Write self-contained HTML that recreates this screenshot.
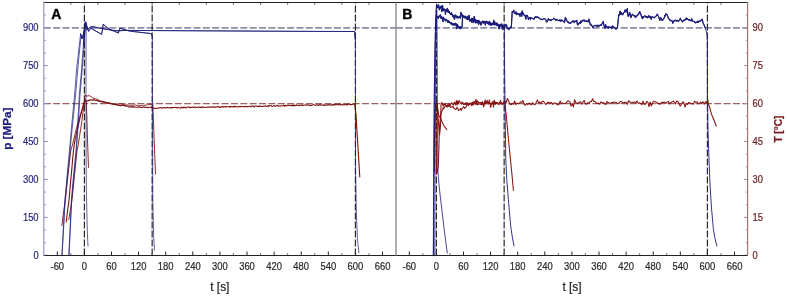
<!DOCTYPE html>
<html><head><meta charset="utf-8"><style>
html,body{margin:0;padding:0;background:#fff;width:787px;height:296px;overflow:hidden;font-family:"Liberation Sans",sans-serif;}
svg{display:block;will-change:transform;filter:blur(0.3px)}
</style></head><body>
<svg width="787" height="296" viewBox="0 0 787 296">
<rect width="787" height="296" fill="#fff"/>
<g><line x1="43.75" y1="27.85" x2="396.0" y2="27.85" stroke="#8e8ea8" stroke-width="1.8" stroke-dasharray="7 2.36"/><line x1="43.75" y1="103.6" x2="396.0" y2="103.6" stroke="#9a6262" stroke-width="1.3" stroke-dasharray="7 2.36"/><line x1="396.0" y1="27.85" x2="748.0" y2="27.85" stroke="#8e8ea8" stroke-width="1.8" stroke-dasharray="7 2.36"/><line x1="396.0" y1="103.6" x2="748.0" y2="103.6" stroke="#9a6262" stroke-width="1.3" stroke-dasharray="7 2.36"/><line x1="84.40" y1="255.5" x2="84.40" y2="2.5" stroke="#2a2a2a" stroke-width="1.2" stroke-dasharray="6.9 2.1"/><line x1="152.16" y1="255.5" x2="152.16" y2="2.5" stroke="#2a2a2a" stroke-width="1.2" stroke-dasharray="6.9 2.1"/><line x1="355.42" y1="255.5" x2="355.42" y2="2.5" stroke="#2a2a2a" stroke-width="1.2" stroke-dasharray="6.9 2.1"/><line x1="436.40" y1="255.5" x2="436.40" y2="2.5" stroke="#2a2a2a" stroke-width="1.2" stroke-dasharray="6.9 2.1"/><line x1="504.15" y1="255.5" x2="504.15" y2="2.5" stroke="#2a2a2a" stroke-width="1.2" stroke-dasharray="6.9 2.1"/><line x1="707.42" y1="255.5" x2="707.42" y2="2.5" stroke="#2a2a2a" stroke-width="1.2" stroke-dasharray="6.9 2.1"/></g>
<g><path d="M61.90,225.60 L63.50,212.01 L65.40,200.32 L66.70,187.25 L68.00,175.31 L69.45,162.37 L70.90,149.95 L72.40,145.23 L73.80,139.19 L75.20,133.53 L76.60,127.42 L78.00,122.18 L79.35,117.83 L80.70,113.48 L82.05,109.60 L83.40,105.06 L84.50,100.97 L85.50,99.24 L86.20,101.93 L86.80,114.79 L87.50,139.83 L88.50,167.40" fill="none" stroke="#851515" stroke-width="0.9" stroke-linejoin="round" stroke-linecap="round" opacity="1.0"/><path d="M68.80,219.70 L70.40,209.68 L72.00,199.86 L73.28,187.72 L74.55,174.71 L75.82,162.57 L77.10,150.16 L78.30,144.78 L79.53,136.36 L80.77,128.18 L82.00,120.11 L84.20,103.04 L85.10,94.86 L86.70,96.05 L87.95,95.97 L89.20,95.55 L91.20,96.79 L92.57,97.69 L93.93,98.16 L95.30,98.62 L96.55,98.98 L97.80,99.59 L99.05,100.21 L100.30,100.97 L101.58,101.27 L102.85,101.32 L104.12,102.12 L105.40,102.18 L106.68,102.59 L107.95,102.43 L109.22,102.67 L110.50,102.99 L111.75,103.74 L113.00,103.88 L114.25,104.27 L115.50,104.40 L116.78,104.08 L118.05,104.01 L119.32,103.92 L120.60,103.95 L121.88,103.93 L123.15,104.52 L124.42,104.60 L125.70,105.03 L127.20,104.92 L128.70,105.18 L130.20,105.06 L131.70,105.32 L133.08,105.13 L134.47,105.09 L135.85,105.08 L137.23,105.57 L138.62,105.44 L140.00,105.78 L141.25,105.62 L142.50,105.19 L143.75,105.49 L145.00,105.11 L146.25,105.12 L147.50,104.76 L148.75,104.50 L150.00,104.37 L151.40,104.48 L152.80,104.87 L153.60,124.73 L154.50,149.66 L155.50,174.00" fill="none" stroke="#851515" stroke-width="0.9" stroke-linejoin="round" stroke-linecap="round" opacity="1.0"/><path d="M66.20,222.00 L67.13,214.21 L68.07,207.04 L69.00,200.33 L69.75,191.76 L70.50,182.89 L71.25,174.93 L72.00,166.64 L72.75,157.96 L73.50,150.26 L74.25,144.58 L75.00,139.88 L75.80,136.42 L76.60,132.72 L77.40,129.30 L78.20,125.86 L79.00,122.50 L79.77,118.76 L80.53,116.16 L81.30,113.22 L82.07,109.77 L82.83,106.45 L83.60,104.52 L84.35,102.38 L85.10,101.00 L85.83,101.49 L86.56,101.01 L87.29,100.74 L88.01,100.93 L88.74,99.97 L89.47,100.57 L90.20,100.06 L90.95,99.62 L91.70,100.13 L92.45,100.30 L93.20,99.38 L93.91,99.99 L94.62,99.78 L95.33,100.42 L96.04,100.54 L96.75,100.14 L97.46,100.96 L98.17,100.92 L98.88,101.10 L99.59,101.40 L100.30,101.12 L101.05,101.67 L101.79,101.99 L102.54,101.32 L103.28,102.32 L104.03,102.01 L104.78,102.29 L105.52,102.10 L106.27,102.90 L107.02,102.63 L107.76,103.45 L108.51,102.98 L109.25,103.48 L110.00,103.49 L110.71,103.84 L111.41,103.49 L112.12,103.59 L112.83,104.32 L113.53,104.44 L114.24,104.35 L114.95,104.86 L115.65,104.18 L116.36,105.01 L117.07,104.37 L117.77,105.36 L118.48,105.10 L119.19,105.19 L119.89,105.70 L120.60,105.62 L121.32,105.73 L122.04,105.02 L122.76,105.48 L123.49,105.27 L124.21,105.50 L124.93,105.63 L125.65,106.44 L126.37,105.75 L127.09,106.04 L127.81,106.36 L128.54,106.86 L129.26,107.10 L129.98,106.92 L130.70,106.49 L131.42,106.89 L132.13,107.10 L132.85,106.42 L133.56,107.15 L134.28,106.85 L134.99,107.13 L135.71,107.26 L136.42,107.29 L137.14,107.17 L137.85,107.24 L138.57,106.89 L139.28,107.26 L140.00,106.89 L140.71,107.29 L141.43,107.35 L142.14,107.62 L142.86,107.21 L143.57,106.81 L144.29,107.37 L145.00,107.03 L145.71,107.62 L146.43,107.24 L147.14,107.24 L147.86,107.83 L148.57,107.27 L149.29,107.23 L150.00,107.23 L150.71,107.46 L151.43,107.12 L152.14,107.71 L152.86,108.21 L153.57,107.90 L154.29,108.18 L155.00,108.49 L155.71,108.37 L156.43,108.25 L157.14,108.32 L157.86,108.31 L158.57,107.68 L159.29,107.92 L160.00,107.76 L160.71,107.66 L161.43,107.99 L162.14,107.70 L162.86,108.03 L163.57,107.98 L164.29,107.44 L165.00,107.80 L165.71,107.74 L166.43,108.07 L167.14,107.39 L167.86,107.46 L168.57,107.83 L169.29,107.70 L170.00,107.98 L170.71,107.60 L171.43,107.44 L172.14,108.23 L172.86,107.46 L173.57,107.34 L174.29,107.47 L175.00,107.52 L175.71,107.38 L176.43,107.71 L177.14,108.14 L177.86,107.23 L178.57,107.54 L179.29,107.80 L180.00,108.02 L180.71,108.14 L181.43,107.18 L182.14,107.60 L182.86,107.96 L183.57,107.04 L184.29,107.61 L185.00,107.14 L185.71,107.78 L186.43,107.95 L187.14,107.50 L187.86,106.90 L188.57,106.95 L189.29,107.32 L190.00,107.78 L190.71,107.10 L191.43,107.56 L192.14,107.25 L192.86,107.08 L193.57,107.55 L194.29,107.10 L195.00,107.16 L195.71,107.58 L196.43,107.27 L197.14,107.57 L197.86,107.26 L198.57,106.85 L199.29,107.15 L200.00,107.61 L200.70,107.26 L201.41,107.69 L202.11,106.62 L202.82,106.98 L203.52,107.44 L204.23,107.34 L204.93,107.19 L205.63,107.29 L206.34,107.51 L207.04,107.29 L207.75,107.13 L208.45,107.13 L209.15,107.24 L209.86,106.85 L210.56,107.22 L211.27,107.15 L211.97,107.32 L212.68,106.98 L213.38,106.47 L214.08,107.02 L214.79,107.36 L215.49,107.11 L216.20,107.10 L216.90,106.81 L217.61,106.76 L218.31,107.15 L219.01,106.43 L219.72,107.29 L220.42,107.29 L221.13,107.37 L221.83,106.45 L222.54,106.42 L223.24,107.26 L223.94,106.71 L224.65,106.55 L225.35,106.66 L226.06,106.96 L226.76,106.40 L227.46,106.75 L228.17,106.93 L228.87,106.98 L229.58,106.19 L230.28,107.06 L230.99,106.63 L231.69,106.62 L232.39,106.75 L233.10,106.43 L233.80,107.08 L234.51,106.33 L235.21,106.68 L235.92,106.26 L236.62,106.74 L237.32,107.04 L238.03,107.01 L238.73,106.18 L239.44,106.71 L240.14,106.99 L240.85,106.22 L241.55,106.44 L242.25,106.76 L242.96,106.77 L243.66,106.45 L244.37,106.64 L245.07,106.66 L245.77,106.31 L246.48,106.62 L247.18,106.53 L247.89,106.65 L248.59,106.44 L249.30,106.23 L250.00,106.33 L250.70,106.85 L251.41,106.03 L252.11,105.97 L252.82,105.80 L253.52,106.71 L254.23,106.84 L254.93,106.00 L255.63,106.02 L256.34,105.93 L257.04,106.36 L257.75,106.21 L258.45,106.57 L259.15,105.88 L259.86,106.60 L260.56,106.13 L261.27,106.49 L261.97,106.47 L262.68,106.57 L263.38,106.10 L264.08,106.21 L264.79,106.14 L265.49,105.72 L266.20,106.05 L266.90,106.50 L267.61,106.46 L268.31,105.47 L269.01,106.16 L269.72,105.78 L270.42,105.55 L271.13,105.54 L271.83,106.24 L272.54,106.41 L273.24,105.91 L273.94,105.75 L274.65,105.87 L275.35,106.20 L276.06,106.10 L276.76,105.33 L277.46,105.48 L278.17,106.18 L278.87,105.76 L279.58,105.92 L280.28,106.04 L280.99,105.87 L281.69,105.96 L282.39,105.74 L283.10,105.37 L283.80,105.31 L284.51,106.18 L285.21,105.09 L285.92,105.82 L286.62,106.01 L287.32,105.28 L288.03,105.07 L288.73,105.44 L289.44,105.35 L290.14,105.47 L290.85,105.42 L291.55,105.97 L292.25,105.05 L292.96,105.94 L293.66,104.94 L294.37,105.91 L295.07,105.22 L295.77,105.64 L296.48,104.83 L297.18,105.30 L297.89,105.54 L298.59,105.47 L299.30,105.65 L300.00,104.92 L300.71,105.18 L301.43,105.41 L302.14,104.75 L302.86,105.63 L303.57,105.16 L304.29,104.96 L305.00,104.93 L305.71,105.39 L306.43,104.72 L307.14,104.92 L307.86,104.98 L308.57,104.92 L309.29,105.43 L310.00,105.27 L310.71,105.60 L311.43,105.37 L312.14,104.91 L312.86,104.94 L313.57,104.70 L314.29,104.83 L315.00,105.22 L315.71,105.34 L316.43,104.86 L317.14,104.90 L317.86,105.40 L318.57,105.56 L319.29,104.59 L320.00,104.56 L320.71,105.31 L321.43,105.01 L322.14,104.92 L322.86,105.14 L323.57,105.27 L324.29,104.50 L325.00,105.47 L325.71,105.46 L326.43,104.86 L327.14,104.90 L327.86,104.68 L328.57,105.02 L329.29,104.59 L330.00,104.94 L330.71,105.33 L331.42,104.87 L332.13,105.21 L332.83,104.48 L333.54,105.24 L334.25,104.38 L334.96,104.46 L335.67,105.01 L336.38,104.53 L337.09,104.31 L337.79,104.26 L338.50,105.02 L339.21,104.15 L339.92,104.17 L340.63,105.13 L341.34,104.94 L342.05,104.47 L342.75,104.25 L343.46,104.98 L344.17,104.87 L344.88,104.73 L345.59,104.56 L346.30,104.53 L347.01,105.01 L347.71,104.50 L348.42,104.00 L349.13,103.97 L349.84,104.53 L350.55,104.66 L351.26,104.53 L351.97,104.64 L352.67,104.13 L353.38,104.19 L354.09,104.06 L354.80,104.16 L356.00,114.74 L356.75,127.87 L357.50,139.61 L358.27,152.01 L359.03,164.90 L359.80,177.00" fill="none" stroke="#7a1212" stroke-width="1.1" stroke-linejoin="round" stroke-linecap="round" opacity="1.0"/><path d="M436.60,173.00 L436.30,150.00 L436.00,125.00 L436.00,108.00 L436.30,101.90 L437.40,105.80 L438.70,115.30 L440.70,118.60 L442.10,122.00 L444.10,126.10 L446.80,129.50" fill="none" stroke="#861212" stroke-width="1.05" stroke-linejoin="round" stroke-linecap="round" opacity="1.0"/><path d="M436.80,174.00 L438.00,168.00 L438.40,163.70 L439.00,145.00 L439.30,130.00 L440.10,120.00 L440.80,112.00 L441.00,104.81 L441.70,102.51 L442.40,103.79 L443.10,106.23 L443.80,104.32 L444.50,105.21 L445.20,103.48 L445.90,105.14 L446.60,105.56 L447.30,106.03 L448.00,104.61 L448.70,103.92 L449.40,103.50 L450.10,105.46 L450.80,104.07 L451.50,102.73 L452.20,103.72 L452.90,104.39 L453.60,105.01 L454.30,102.12 L455.00,103.01 L455.70,104.79 L456.40,100.63 L457.10,105.05 L457.80,100.77 L458.50,103.71 L459.20,100.49 L459.90,101.88 L460.60,103.28 L461.30,104.14 L462.00,101.96 L462.70,102.25 L463.40,104.54 L464.10,104.04 L464.80,104.43 L465.50,102.70 L466.20,104.81 L466.90,102.75 L467.60,102.65 L468.30,104.21 L469.00,104.32 L469.70,103.35 L470.40,103.81 L471.10,104.56 L471.80,103.59 L472.50,103.00 L473.20,104.44 L473.90,101.68 L474.60,102.08 L475.30,102.02 L476.00,99.37 L476.70,103.58 L477.40,100.71 L478.10,101.65 L478.80,103.30 L479.50,102.56 L480.20,102.64 L480.90,102.52 L481.60,104.42 L482.30,101.77 L483.00,104.57 L483.70,106.95 L484.40,103.66 L485.10,99.85 L485.80,104.04 L486.50,102.31 L487.20,102.25 L487.90,102.70 L488.60,102.36 L489.30,103.36 L490.00,103.42 L490.70,103.77 L491.40,103.97 L492.10,103.18 L492.80,103.06 L493.50,107.09 L494.20,99.93 L494.90,103.89 L495.60,104.27 L496.30,102.33 L497.00,102.46 L497.70,102.59 L498.40,104.16 L499.10,103.73 L499.80,103.85 L500.50,100.27 L501.20,103.94 L501.90,103.90 L502.60,104.14 L503.30,104.12 L504.00,101.60 L505.00,103.50 L506.50,118.00 L508.50,140.00 L510.50,160.00 L512.00,175.00 L513.40,190.50" fill="none" stroke="#861212" stroke-width="1.05" stroke-linejoin="round" stroke-linecap="round" opacity="1.0"/><path d="M434.40,172.00 L434.30,150.00 L434.60,125.00 L435.20,108.00 L436.20,104.00 L437.60,110.00 L438.60,125.00 L439.60,135.00 L440.30,128.00 L440.80,120.00 L441.00,114.62 L441.70,110.89 L442.40,110.64 L443.10,107.49 L443.80,108.74 L444.50,107.38 L445.20,105.86 L445.90,106.22 L446.60,106.84 L447.30,107.00 L448.00,104.96 L448.70,106.53 L449.40,105.03 L450.10,106.63 L450.80,107.57 L451.50,107.11 L452.20,106.90 L452.90,106.04 L453.60,108.14 L454.30,108.16 L455.00,109.31 L455.70,109.08 L456.40,109.17 L457.10,107.27 L457.80,108.21 L458.50,110.57 L459.20,110.13 L459.90,109.77 L460.60,108.38 L461.30,110.24 L462.00,108.56 L462.70,108.16 L463.40,106.57 L464.10,107.21 L464.80,108.37 L465.50,107.34 L466.20,106.79 L466.90,104.08 L467.60,104.61 L468.30,105.69 L469.00,104.57 L469.70,104.43 L470.40,103.12 L471.10,102.80 L471.80,105.89 L472.50,102.00 L473.20,104.97 L473.90,104.45 L474.60,101.73 L475.30,102.89 L476.00,104.57 L476.70,102.70 L477.40,104.93 L478.10,103.67 L478.80,104.27 L479.50,103.98 L480.20,103.99 L480.90,104.45 L481.60,104.70 L482.30,101.83 L483.00,104.23 L483.70,104.40 L484.40,102.01 L485.10,103.27 L485.80,102.38 L486.50,102.21 L487.20,100.27 L487.90,104.08 L488.60,103.96 L489.30,99.79 L490.00,103.63 L490.70,107.38 L491.40,104.02 L492.10,102.51 L492.80,101.62 L493.50,101.75 L494.20,103.88 L494.90,103.46 L495.60,102.07 L496.30,103.63 L497.00,102.56 L497.70,102.66 L498.40,104.55 L499.10,104.17 L499.80,102.59 L500.50,101.48 L501.20,102.96 L501.90,103.90 L502.60,103.71 L503.30,102.22 L504.00,102.73 L504.70,102.20 L505.00,101.10 L506.20,102.97 L507.40,98.40 L508.60,100.98 L509.80,104.04 L511.00,104.81 L512.20,103.40 L513.40,104.24 L514.60,100.98 L515.80,104.64 L517.00,102.84 L518.20,103.90 L519.40,103.29 L520.60,101.78 L521.80,102.37 L523.00,100.47 L524.20,104.70 L525.40,105.16 L526.60,103.47 L527.80,104.61 L529.00,103.00 L530.20,104.16 L531.40,104.76 L532.60,102.66 L533.80,104.44 L535.00,104.78 L536.20,102.62 L537.40,99.86 L538.60,102.87 L539.80,101.84 L541.00,103.83 L542.20,101.44 L543.40,101.19 L544.60,102.74 L545.80,104.55 L547.00,103.08 L548.20,101.99 L549.40,103.64 L550.60,102.30 L551.80,102.87 L553.00,104.52 L554.20,102.68 L555.40,103.20 L556.60,104.02 L557.80,105.08 L559.00,104.23 L560.20,101.01 L561.40,104.07 L562.60,102.91 L563.80,103.78 L565.00,103.54 L566.20,102.95 L567.40,101.35 L568.60,100.84 L569.80,101.64 L571.00,106.14 L572.20,103.39 L573.40,106.92 L574.60,99.68 L575.80,102.80 L577.00,103.13 L578.20,103.14 L579.40,102.05 L580.60,101.70 L581.80,104.38 L583.00,101.75 L584.20,100.32 L585.40,103.86 L586.60,104.29 L587.80,102.64 L589.00,103.30 L590.20,101.64 L591.40,101.43 L592.60,98.67 L593.80,101.60 L595.00,101.49 L596.20,102.77 L597.40,103.42 L598.60,103.12 L599.80,104.31 L601.00,101.76 L602.20,102.96 L603.40,102.58 L604.60,103.72 L605.80,104.49 L607.00,101.41 L608.20,102.56 L609.40,102.83 L610.60,103.98 L611.80,102.25 L613.00,102.89 L614.20,101.77 L615.40,102.36 L616.60,102.66 L617.80,103.35 L619.00,103.47 L620.20,101.41 L621.40,101.43 L622.60,102.66 L623.80,102.77 L625.00,102.16 L626.20,102.18 L627.40,104.34 L628.60,100.65 L629.80,102.12 L631.00,102.23 L632.20,102.22 L633.40,102.58 L634.60,102.00 L635.80,102.67 L637.00,100.94 L638.20,103.20 L639.40,102.81 L640.60,103.42 L641.80,104.62 L643.00,101.10 L644.20,104.28 L645.40,104.35 L646.60,101.44 L647.80,101.88 L649.00,106.57 L650.20,102.12 L651.40,105.84 L652.60,102.79 L653.80,101.29 L655.00,101.87 L656.20,101.93 L657.40,103.76 L658.60,103.08 L659.80,104.48 L661.00,102.99 L662.20,102.23 L663.40,102.54 L664.60,102.05 L665.80,103.39 L667.00,102.12 L668.20,101.34 L669.40,103.91 L670.60,102.70 L671.80,102.06 L673.00,101.22 L674.20,102.05 L675.40,104.02 L676.60,101.06 L677.80,101.30 L679.00,103.34 L680.20,106.33 L681.40,104.34 L682.60,101.95 L683.80,102.01 L685.00,107.11 L686.20,103.29 L687.40,104.43 L688.60,102.62 L689.80,102.84 L691.00,103.64 L692.20,103.42 L693.40,104.28 L694.60,101.30 L695.80,102.31 L697.00,101.79 L698.20,103.93 L699.40,103.25 L700.60,102.00 L701.80,103.44 L703.00,101.66 L704.20,104.37 L705.40,101.61 L706.60,102.92 L707.80,99.78 L708.30,103.80 L709.50,107.00 L711.50,114.20 L714.00,120.00 L716.30,126.10" fill="none" stroke="#861212" stroke-width="1.05" stroke-linejoin="round" stroke-linecap="round" opacity="1.0"/><path d="M69.00,255.30 L70.30,230.00 L71.70,200.00 L74.00,175.00 L76.50,150.00 L78.40,122.00 L80.00,95.00 L82.20,70.00 L84.00,45.00 L84.80,32.00 L85.40,23.50 L85.90,22.50 L86.10,30.00 L86.00,60.00 L86.00,100.00 L86.10,150.00 L86.30,185.00 L86.80,210.00 L87.30,232.00 L88.00,246.00" fill="none" stroke="#1c1c7a" stroke-width="0.7" stroke-linejoin="round" stroke-linecap="round" opacity="1.0"/><path d="M84.00,45.00 L84.80,32.00 L85.40,23.50 L85.90,22.50 L86.10,30.00" fill="none" stroke="#1c1c7a" stroke-width="0.85" stroke-linejoin="round" stroke-linecap="round" opacity="1.0"/><path d="M68.80,255.30 L70.00,230.00 L71.40,200.00 L73.60,175.00 L76.00,150.00 L77.80,122.00 L79.30,95.00 L81.50,70.00 L83.40,45.00 L84.30,32.00 L85.00,23.00 L85.50,21.80 L86.50,25.00 L88.60,31.40 L90.50,28.20 L92.00,28.80 L95.00,30.60 L101.00,34.00 L101.60,34.30 L102.40,30.00 L103.20,24.20 L107.00,27.60 L110.30,29.70 L114.60,31.40 L118.40,33.00 L119.20,30.00 L120.10,28.20 L125.00,29.90 L130.30,31.20 L140.00,32.30 L151.30,33.60 L152.40,37.00 L152.50,100.00 L152.80,200.00 L153.60,235.00 L154.50,250.00" fill="none" stroke="#1c1c7a" stroke-width="0.7" stroke-linejoin="round" stroke-linecap="round" opacity="1.0"/><path d="M83.40,45.00 L84.30,32.00 L85.00,23.00 L85.50,21.80 L86.50,25.00 L88.60,31.40 L90.50,28.20 L92.00,28.80 L95.00,30.60 L101.00,34.00 L101.60,34.30 L102.40,30.00 L103.20,24.20 L107.00,27.60 L110.30,29.70 L114.60,31.40 L118.40,33.00 L119.20,30.00 L120.10,28.20 L125.00,29.90 L130.30,31.20 L140.00,32.30 L151.30,33.60 L152.40,37.00" fill="none" stroke="#1c1c7a" stroke-width="0.85" stroke-linejoin="round" stroke-linecap="round" opacity="1.0"/><path d="M62.10,255.30 L63.80,225.00 L65.20,200.00 L67.60,175.00 L70.10,150.00 L72.80,122.00 L75.60,95.00 L77.70,70.00 L79.90,47.00 L81.20,35.50 L82.30,38.50 L83.50,35.00 L84.70,27.50 L85.60,25.50 L87.50,29.50 L89.50,27.60 L92.00,26.50 L97.00,27.60 L101.90,28.60 L107.00,29.40 L112.00,30.20 L118.00,30.80 L122.00,30.60 L126.00,30.40 L160.00,30.60 L200.00,30.80 L240.00,31.00 L280.00,31.25 L320.00,31.45 L354.60,31.50 L355.40,40.00 L355.60,170.00 L356.40,215.00 L357.50,240.00 L358.90,252.80" fill="none" stroke="#1c1c7a" stroke-width="0.7" stroke-linejoin="round" stroke-linecap="round" opacity="1.0"/><path d="M81.20,35.50 L82.30,38.50 L83.50,35.00 L84.70,27.50 L85.60,25.50 L87.50,29.50 L89.50,27.60 L92.00,26.50 L97.00,27.60 L101.90,28.60 L107.00,29.40 L112.00,30.20 L118.00,30.80 L122.00,30.60 L126.00,30.40 L160.00,30.60 L200.00,30.80 L240.00,31.00 L280.00,31.25 L320.00,31.45 L354.60,31.50 L355.40,40.00" fill="none" stroke="#1c1c7a" stroke-width="0.85" stroke-linejoin="round" stroke-linecap="round" opacity="1.0"/><path d="M61.90,255.30 L63.50,225.00 L64.90,200.00 L67.20,175.00 L69.50,150.00 L72.00,122.00 L74.60,95.00 L76.50,70.00 L79.10,47.00 L80.60,33.70 L81.90,38.30 L82.90,36.20 L84.00,31.50 L84.60,30.00" fill="none" stroke="#1c1c7a" stroke-width="0.7" stroke-linejoin="round" stroke-linecap="round" opacity="1.0"/><path d="M80.60,33.70 L81.90,38.30 L82.90,36.20 L84.00,31.50 L84.60,30.00" fill="none" stroke="#1c1c7a" stroke-width="0.85" stroke-linejoin="round" stroke-linecap="round" opacity="1.0"/><path d="M433.30,255.30 L433.50,200.00 L433.80,150.00 L434.30,90.00 L435.00,45.00 L435.60,20.00 L436.30,9.00 L436.90,11.00 L437.10,40.00 L437.30,90.00 L437.50,130.00 L437.90,170.00 L439.00,185.00 L440.70,200.00 L442.50,215.00 L444.00,228.00 L445.80,242.00 L447.30,253.00" fill="none" stroke="#1c1c7a" stroke-width="0.8" stroke-linejoin="round" stroke-linecap="round" opacity="1.0"/><path d="M434.80,255.30 L435.00,150.00 L435.40,80.00 L436.00,30.00 L436.50,10.00 L436.80,4.70 L437.23,6.98 L437.67,7.48 L438.10,7.46 L438.50,4.79 L438.90,6.39 L439.30,9.80 L439.70,9.27 L440.10,8.08 L440.52,6.52 L440.94,6.89 L441.36,6.01 L441.78,11.54 L442.20,5.36 L442.63,6.20 L443.07,10.79 L443.50,10.42 L443.90,8.71 L444.30,9.87 L444.70,9.49 L445.10,11.44 L445.50,14.30 L445.92,9.70 L446.34,10.68 L446.76,10.92 L447.18,8.39 L447.60,12.02 L448.05,9.62 L448.50,12.51 L448.95,11.78 L449.40,11.45 L449.85,13.48 L450.30,13.44 L450.70,14.40 L451.10,14.03 L451.50,12.60 L451.90,14.96 L452.30,14.36 L452.70,15.84 L453.10,16.98 L453.50,15.37 L453.90,16.51 L454.30,19.05 L454.72,18.84 L455.14,14.78 L455.56,16.32 L455.98,15.44 L456.40,16.24 L456.85,17.72 L457.30,16.43 L457.75,18.07 L458.20,16.76 L458.65,17.98 L459.10,17.78 L459.55,16.73 L460.00,16.00 L460.45,18.21 L460.90,12.35 L461.35,13.80 L461.80,14.20 L461.80,14.20 L462.40,17.00 L462.85,15.76 L463.30,16.65 L463.75,17.39 L464.20,16.10 L464.65,16.98 L465.10,16.50 L465.64,16.72 L466.18,18.05 L466.72,19.11 L467.26,17.92 L467.80,19.68 L468.34,16.58 L468.88,19.41 L469.42,18.95 L469.96,20.14 L470.50,19.83 L471.04,20.12 L471.58,18.27 L472.12,20.04 L472.66,18.25 L473.20,20.05 L473.74,22.61 L474.28,16.34 L474.82,20.84 L475.36,20.93 L475.90,23.11 L476.35,20.18 L476.80,21.93 L477.25,22.72 L477.70,21.42 L478.15,21.09 L478.60,24.50 L479.07,20.67 L479.53,21.69 L480.00,22.88 L480.50,22.02 L481.00,25.11 L481.50,22.80 L482.00,21.69 L482.50,21.83 L483.00,22.26 L483.50,21.99 L484.00,21.60 L484.46,22.40 L484.91,21.99 L485.37,25.14 L485.82,21.44 L486.28,21.44 L486.73,21.41 L487.19,21.98 L487.64,22.77 L488.10,23.79 L488.56,21.98 L489.01,24.55 L489.47,21.41 L489.92,22.50 L490.38,22.76 L490.83,25.32 L491.29,23.39 L491.74,23.94 L492.20,22.94 L492.70,24.62 L493.20,24.72 L493.70,24.16 L494.20,24.58 L494.70,21.79 L495.20,24.70 L495.70,24.35 L496.20,24.83 L496.66,25.32 L497.11,24.07 L497.57,24.92 L498.02,24.44 L498.48,24.34 L498.93,28.94 L499.39,25.07 L499.84,26.00 L500.30,25.16 L500.84,24.36 L501.38,23.87 L501.92,24.46 L502.46,29.18 L503.00,29.10 L503.65,25.20 L504.30,27.00 L504.50,60.00 L505.20,120.00 L505.80,160.00 L506.80,180.00 L508.40,199.60 L509.60,214.00 L510.80,227.00 L512.30,237.00 L514.00,245.80" fill="none" stroke="#1c1c7a" stroke-width="0.9" stroke-linejoin="round" stroke-linecap="round" opacity="1.0"/><path d="M433.40,255.30 L433.70,200.00 L434.00,150.00 L434.60,70.00 L435.50,30.00 L436.20,18.00 L436.80,16.20 L437.23,16.34 L437.67,17.58 L438.10,17.43 L438.50,18.48 L438.90,15.96 L439.30,16.78 L439.70,16.11 L440.10,14.82 L440.52,14.94 L440.94,18.48 L441.36,18.05 L441.78,16.77 L442.20,18.21 L442.60,19.81 L443.00,21.68 L443.40,17.05 L443.80,18.84 L444.20,18.92 L444.60,18.56 L445.00,19.80 L445.40,20.98 L445.80,20.71 L446.20,19.29 L446.65,19.55 L447.10,20.39 L447.55,22.22 L448.00,22.28 L448.45,20.68 L448.90,22.36 L449.35,21.38 L449.80,22.83 L450.25,23.16 L450.70,22.70 L451.15,24.17 L451.60,22.51 L452.05,24.54 L452.50,23.48 L452.95,25.09 L453.40,25.43 L453.85,23.52 L454.30,24.54 L454.75,24.96 L455.20,23.10 L455.65,25.14 L456.10,23.66 L456.55,28.74 L457.00,27.58 L457.45,24.30 L457.90,25.71 L458.35,26.98 L458.80,28.01 L459.25,26.80 L459.70,28.46 L460.12,26.66 L460.55,28.94 L460.97,27.62 L461.40,27.94 L461.80,26.75 L462.20,26.40 L462.60,15.00 L463.08,15.74 L463.56,16.62 L464.04,16.93 L464.52,17.03 L465.00,18.22 L465.50,16.26 L466.00,16.66 L466.50,17.79 L467.00,18.23 L467.50,18.27 L468.00,16.08 L468.50,17.97 L469.00,15.30 L469.50,19.16 L470.00,21.48 L470.50,19.59 L471.00,20.50 L471.50,20.05 L472.00,22.58 L472.50,19.11 L473.00,19.22 L473.50,19.42 L474.00,21.45 L474.50,20.63 L475.00,19.13 L475.50,20.95 L476.00,20.43 L476.50,21.44 L477.00,20.54 L477.50,20.74 L478.00,20.36 L478.50,20.83 L479.00,21.48 L479.50,21.59 L480.00,23.30 L480.50,23.70 L481.00,22.34 L481.50,23.58 L482.00,22.76 L482.50,22.61 L483.00,20.92 L483.50,22.98 L484.00,23.19 L484.46,22.13 L484.91,21.59 L485.37,23.20 L485.82,22.82 L486.28,22.90 L486.73,21.36 L487.19,22.65 L487.64,23.39 L488.10,22.55 L488.56,22.85 L489.01,22.94 L489.47,24.30 L489.92,23.74 L490.38,24.18 L490.83,24.54 L491.29,23.48 L491.74,24.90 L492.20,24.23 L492.70,23.47 L493.20,24.42 L493.70,20.14 L494.20,23.24 L494.70,24.73 L495.20,24.45 L495.70,23.85 L496.20,22.81 L496.66,23.94 L497.11,23.28 L497.57,25.06 L498.02,26.12 L498.48,26.67 L498.93,25.68 L499.39,24.81 L499.84,26.39 L500.30,25.27 L500.84,25.94 L501.38,24.76 L501.92,25.28 L502.46,27.78 L503.00,25.92 L503.50,26.49 L504.00,26.18 L504.50,27.57 L505.00,24.51 L505.50,25.92 L506.00,25.11 L506.50,24.60 L506.98,28.22 L507.45,27.38 L507.92,27.60 L508.40,29.69 L508.93,29.22 L509.47,28.90 L510.00,27.85 L510.47,26.89 L510.93,27.68 L511.40,26.40 L512.20,11.50 L512.73,12.08 L513.27,11.64 L513.80,10.02 L514.25,12.94 L514.70,13.49 L515.15,13.09 L515.60,13.80 L516.05,11.72 L516.50,14.62 L516.95,13.53 L517.40,13.29 L517.85,14.01 L518.30,14.68 L518.75,13.69 L519.20,13.69 L520.00,16.45 L520.45,13.45 L520.90,13.21 L521.35,12.88 L521.80,16.37 L522.25,10.76 L522.70,13.22 L523.13,12.82 L523.57,14.26 L524.00,15.18 L524.47,15.29 L524.93,15.04 L525.40,17.33 L525.87,19.07 L526.33,15.43 L526.80,15.62 L527.20,15.33 L527.60,16.37 L528.00,17.21 L528.40,19.72 L528.80,18.07 L529.20,18.20 L529.60,17.81 L530.00,17.37 L530.40,19.64 L530.80,17.60 L533.50,18.90 L534.04,19.26 L534.58,17.33 L535.12,17.65 L535.66,16.59 L536.20,16.83 L536.74,17.69 L537.28,16.77 L537.82,17.19 L538.36,17.30 L538.90,18.14 L539.44,18.02 L539.98,18.87 L540.52,19.34 L541.06,19.62 L541.60,19.11 L542.17,19.73 L542.73,19.53 L543.30,18.86 L543.87,18.69 L544.43,18.59 L545.00,19.22 L545.70,19.30 L546.40,21.89 L546.90,22.00 L547.40,21.42 L547.90,20.42 L548.40,18.52 L548.90,19.67 L549.40,19.55 L549.90,20.20 L550.40,19.52 L550.90,20.60 L551.40,20.15 L551.90,19.66 L552.40,19.58 L553.10,19.25 L553.80,18.23 L554.45,18.77 L555.10,19.20 L555.64,20.26 L556.18,20.19 L556.72,19.25 L557.26,19.81 L557.80,20.23 L558.34,20.56 L558.88,20.42 L559.42,20.64 L559.96,19.69 L560.50,21.18 L561.01,21.18 L561.52,20.04 L562.04,20.29 L562.55,20.38 L563.06,21.06 L563.58,21.76 L564.09,21.36 L564.60,22.33 L565.30,17.54 L565.95,18.35 L566.60,20.02 L567.17,21.19 L567.73,22.17 L568.30,21.79 L568.87,23.08 L569.43,23.10 L570.00,22.90 L570.54,23.27 L571.08,22.16 L571.62,22.63 L572.16,21.57 L572.70,20.95 L573.24,21.45 L573.78,20.77 L574.32,22.78 L574.86,21.42 L575.40,21.52 L576.10,20.63 L576.80,20.34 L577.40,24.41 L577.97,25.10 L578.53,23.87 L579.10,22.88 L579.67,22.45 L580.23,23.61 L580.80,20.82 L581.34,22.41 L581.88,21.68 L582.42,20.20 L582.96,20.68 L583.50,20.78 L584.04,19.79 L584.58,21.05 L585.12,21.49 L585.66,20.93 L586.20,21.35 L586.74,20.76 L587.28,21.73 L587.82,21.02 L588.36,21.89 L588.90,19.06 L589.60,21.79 L590.30,24.88 L590.84,24.07 L591.38,25.65 L591.92,25.36 L592.46,26.68 L593.00,27.64 L593.65,26.35 L594.30,25.80 L594.84,25.36 L595.38,25.41 L595.92,25.97 L596.46,25.26 L597.00,26.33 L597.51,26.67 L598.02,24.96 L598.54,26.26 L599.05,25.72 L599.56,25.94 L600.08,24.99 L600.59,24.80 L601.10,25.54 L601.60,24.83 L602.10,23.62 L602.60,22.34 L603.10,21.50 L603.80,24.53 L604.50,27.14 L605.05,28.17 L605.60,24.61 L606.15,26.99 L606.70,26.69 L607.25,27.10 L607.80,26.89 L608.35,28.49 L608.90,26.54 L609.45,27.16 L610.00,27.69 L610.54,27.76 L611.08,26.66 L611.62,28.75 L612.16,27.80 L612.70,25.87 L613.24,27.08 L613.78,26.88 L614.32,27.38 L614.86,27.80 L615.40,29.03 L615.90,28.90 L616.40,28.98 L616.90,28.09 L617.40,27.70 L618.80,14.90 L619.23,15.18 L619.67,12.54 L620.10,11.15 L620.52,14.44 L620.94,13.48 L621.36,12.64 L621.78,14.05 L622.20,14.83 L622.60,14.20 L623.00,14.55 L623.40,12.75 L623.80,12.61 L624.20,12.52 L624.65,11.58 L625.10,9.80 L625.65,11.75 L626.20,10.00 L626.75,12.22 L627.30,8.46 L627.75,14.70 L628.20,16.35 L628.67,15.50 L629.13,14.20 L629.60,12.28 L630.03,13.40 L630.47,16.63 L630.90,17.60 L632.30,14.20 L632.80,14.55 L633.30,15.23 L633.80,15.88 L634.30,15.85 L634.84,15.46 L635.38,17.74 L635.92,17.04 L636.46,15.91 L637.00,15.71 L637.54,15.78 L638.08,14.25 L638.62,13.21 L639.16,13.54 L639.70,11.48 L640.23,13.07 L640.75,13.95 L641.27,15.55 L641.80,17.24 L642.35,18.77 L642.90,16.57 L643.45,17.72 L644.00,16.57 L644.55,15.79 L645.10,16.00 L645.61,16.17 L646.12,17.58 L646.64,16.49 L647.15,17.43 L647.66,17.73 L648.18,16.31 L648.69,15.53 L649.20,17.59 L649.70,17.53 L650.20,16.47 L650.70,16.28 L651.20,19.41 L651.70,17.44 L652.20,16.84 L652.70,16.83 L653.20,17.16 L653.74,17.66 L654.28,17.89 L654.82,17.02 L655.36,16.76 L655.90,16.58 L656.60,15.19 L657.30,13.99 L657.80,15.51 L658.30,15.88 L658.80,17.13 L659.30,18.98 L659.82,20.46 L660.35,17.85 L660.88,17.90 L661.40,18.58 L662.05,20.49 L662.70,20.13 L663.20,19.22 L663.70,18.68 L664.20,17.85 L664.70,15.49 L665.23,16.21 L665.75,13.67 L666.27,14.76 L666.80,14.15 L667.45,15.46 L668.10,17.63 L668.60,18.37 L669.10,19.04 L669.60,20.22 L670.10,20.23 L670.64,20.02 L671.18,20.97 L671.72,20.95 L672.26,20.79 L672.80,23.34 L673.37,21.27 L673.93,21.15 L674.50,20.44 L675.07,20.97 L675.63,19.98 L676.20,21.01 L676.70,20.97 L677.20,20.50 L677.70,20.34 L678.20,21.39 L678.73,21.08 L679.25,20.26 L679.77,19.61 L680.30,18.21 L680.84,19.46 L681.38,20.61 L681.92,20.86 L682.46,21.92 L683.00,21.17 L683.57,20.80 L684.13,19.84 L684.70,20.46 L685.27,19.45 L685.83,19.16 L686.40,17.80 L686.90,19.48 L687.40,18.64 L687.90,19.12 L688.40,19.55 L688.94,20.35 L689.48,19.78 L690.02,19.69 L690.56,20.70 L691.10,21.04 L691.75,18.73 L692.40,20.93 L692.94,21.15 L693.48,21.35 L694.02,21.28 L694.56,22.13 L695.10,22.16 L695.64,23.05 L696.18,21.90 L696.72,22.26 L697.26,22.43 L697.80,21.03 L698.34,22.34 L698.88,21.72 L699.42,21.24 L699.96,20.45 L700.50,21.26 L701.20,20.28 L701.90,19.07 L702.43,20.16 L702.97,22.90 L703.50,23.60 L705.20,27.80 L706.90,33.80 L707.30,40.00 L707.50,100.00 L708.00,130.00 L709.00,160.00 L710.10,186.00 L711.50,208.00 L713.40,229.40 L715.00,238.50 L716.80,246.00" fill="none" stroke="#1c1c7a" stroke-width="0.9" stroke-linejoin="round" stroke-linecap="round" opacity="1.0"/><path d="M436.00,30.00 L436.50,10.00 L436.80,4.70 L437.23,6.98 L437.67,7.48 L438.10,7.46 L438.50,4.79 L438.90,6.39 L439.30,9.80 L439.70,9.27 L440.10,8.08 L440.52,6.52 L440.94,6.89 L441.36,6.01 L441.78,11.54 L442.20,5.36 L442.63,6.20 L443.07,10.79 L443.50,10.42 L443.90,8.71 L444.30,9.87 L444.70,9.49 L445.10,11.44 L445.50,14.30 L445.92,9.70 L446.34,10.68 L446.76,10.92 L447.18,8.39 L447.60,12.02 L448.05,9.62 L448.50,12.51 L448.95,11.78 L449.40,11.45 L449.85,13.48 L450.30,13.44 L450.70,14.40 L451.10,14.03 L451.50,12.60 L451.90,14.96 L452.30,14.36 L452.70,15.84 L453.10,16.98 L453.50,15.37 L453.90,16.51 L454.30,19.05 L454.72,18.84 L455.14,14.78 L455.56,16.32 L455.98,15.44 L456.40,16.24 L456.85,17.72 L457.30,16.43 L457.75,18.07 L458.20,16.76 L458.65,17.98 L459.10,17.78 L459.55,16.73 L460.00,16.00 L460.45,18.21 L460.90,12.35 L461.35,13.80 L461.80,14.20 L461.80,14.20 L462.40,17.00 L462.85,15.76 L463.30,16.65 L463.75,17.39 L464.20,16.10 L464.65,16.98 L465.10,16.50 L465.64,16.72 L466.18,18.05 L466.72,19.11 L467.26,17.92 L467.80,19.68 L468.34,16.58 L468.88,19.41 L469.42,18.95 L469.96,20.14 L470.50,19.83 L471.04,20.12 L471.58,18.27 L472.12,20.04 L472.66,18.25 L473.20,20.05 L473.74,22.61 L474.28,16.34 L474.82,20.84 L475.36,20.93 L475.90,23.11 L476.35,20.18 L476.80,21.93 L477.25,22.72 L477.70,21.42 L478.15,21.09 L478.60,24.50 L479.07,20.67 L479.53,21.69 L480.00,22.88 L480.50,22.02 L481.00,25.11 L481.50,22.80 L482.00,21.69 L482.50,21.83 L483.00,22.26 L483.50,21.99 L484.00,21.60 L484.46,22.40 L484.91,21.99 L485.37,25.14 L485.82,21.44 L486.28,21.44 L486.73,21.41 L487.19,21.98 L487.64,22.77 L488.10,23.79 L488.56,21.98 L489.01,24.55 L489.47,21.41 L489.92,22.50 L490.38,22.76 L490.83,25.32 L491.29,23.39 L491.74,23.94 L492.20,22.94 L492.70,24.62 L493.20,24.72 L493.70,24.16 L494.20,24.58 L494.70,21.79 L495.20,24.70 L495.70,24.35 L496.20,24.83 L496.66,25.32 L497.11,24.07 L497.57,24.92 L498.02,24.44 L498.48,24.34 L498.93,28.94 L499.39,25.07 L499.84,26.00 L500.30,25.16 L500.84,24.36 L501.38,23.87 L501.92,24.46 L502.46,29.18 L503.00,29.10 L503.65,25.20 L504.30,27.00" fill="none" stroke="#1c1c7a" stroke-width="1.2" stroke-linejoin="round" stroke-linecap="round" opacity="1.0"/><path d="M435.50,30.00 L436.20,18.00 L436.80,16.20 L437.23,16.34 L437.67,17.58 L438.10,17.43 L438.50,18.48 L438.90,15.96 L439.30,16.78 L439.70,16.11 L440.10,14.82 L440.52,14.94 L440.94,18.48 L441.36,18.05 L441.78,16.77 L442.20,18.21 L442.60,19.81 L443.00,21.68 L443.40,17.05 L443.80,18.84 L444.20,18.92 L444.60,18.56 L445.00,19.80 L445.40,20.98 L445.80,20.71 L446.20,19.29 L446.65,19.55 L447.10,20.39 L447.55,22.22 L448.00,22.28 L448.45,20.68 L448.90,22.36 L449.35,21.38 L449.80,22.83 L450.25,23.16 L450.70,22.70 L451.15,24.17 L451.60,22.51 L452.05,24.54 L452.50,23.48 L452.95,25.09 L453.40,25.43 L453.85,23.52 L454.30,24.54 L454.75,24.96 L455.20,23.10 L455.65,25.14 L456.10,23.66 L456.55,28.74 L457.00,27.58 L457.45,24.30 L457.90,25.71 L458.35,26.98 L458.80,28.01 L459.25,26.80 L459.70,28.46 L460.12,26.66 L460.55,28.94 L460.97,27.62 L461.40,27.94 L461.80,26.75 L462.20,26.40 L462.60,15.00 L463.08,15.74 L463.56,16.62 L464.04,16.93 L464.52,17.03 L465.00,18.22 L465.50,16.26 L466.00,16.66 L466.50,17.79 L467.00,18.23 L467.50,18.27 L468.00,16.08 L468.50,17.97 L469.00,15.30 L469.50,19.16 L470.00,21.48 L470.50,19.59 L471.00,20.50 L471.50,20.05 L472.00,22.58 L472.50,19.11 L473.00,19.22 L473.50,19.42 L474.00,21.45 L474.50,20.63 L475.00,19.13 L475.50,20.95 L476.00,20.43 L476.50,21.44 L477.00,20.54 L477.50,20.74 L478.00,20.36 L478.50,20.83 L479.00,21.48 L479.50,21.59 L480.00,23.30 L480.50,23.70 L481.00,22.34 L481.50,23.58 L482.00,22.76 L482.50,22.61 L483.00,20.92 L483.50,22.98 L484.00,23.19 L484.46,22.13 L484.91,21.59 L485.37,23.20 L485.82,22.82 L486.28,22.90 L486.73,21.36 L487.19,22.65 L487.64,23.39 L488.10,22.55 L488.56,22.85 L489.01,22.94 L489.47,24.30 L489.92,23.74 L490.38,24.18 L490.83,24.54 L491.29,23.48 L491.74,24.90 L492.20,24.23 L492.70,23.47 L493.20,24.42 L493.70,20.14 L494.20,23.24 L494.70,24.73 L495.20,24.45 L495.70,23.85 L496.20,22.81 L496.66,23.94 L497.11,23.28 L497.57,25.06 L498.02,26.12 L498.48,26.67 L498.93,25.68 L499.39,24.81 L499.84,26.39 L500.30,25.27 L500.84,25.94 L501.38,24.76 L501.92,25.28 L502.46,27.78 L503.00,25.92 L503.50,26.49 L504.00,26.18 L504.50,27.57 L505.00,24.51 L505.50,25.92 L506.00,25.11 L506.50,24.60 L506.98,28.22 L507.45,27.38 L507.92,27.60 L508.40,29.69 L508.93,29.22 L509.47,28.90 L510.00,27.85 L510.47,26.89 L510.93,27.68 L511.40,26.40 L512.20,11.50 L512.73,12.08 L513.27,11.64 L513.80,10.02 L514.25,12.94 L514.70,13.49 L515.15,13.09 L515.60,13.80 L516.05,11.72 L516.50,14.62 L516.95,13.53 L517.40,13.29 L517.85,14.01 L518.30,14.68 L518.75,13.69 L519.20,13.69 L520.00,16.45 L520.45,13.45 L520.90,13.21 L521.35,12.88 L521.80,16.37 L522.25,10.76 L522.70,13.22 L523.13,12.82 L523.57,14.26 L524.00,15.18 L524.47,15.29 L524.93,15.04 L525.40,17.33 L525.87,19.07 L526.33,15.43 L526.80,15.62 L527.20,15.33 L527.60,16.37 L528.00,17.21 L528.40,19.72 L528.80,18.07 L529.20,18.20 L529.60,17.81 L530.00,17.37 L530.40,19.64 L530.80,17.60 L533.50,18.90 L534.04,19.26 L534.58,17.33 L535.12,17.65 L535.66,16.59 L536.20,16.83 L536.74,17.69 L537.28,16.77 L537.82,17.19 L538.36,17.30 L538.90,18.14 L539.44,18.02 L539.98,18.87 L540.52,19.34 L541.06,19.62 L541.60,19.11 L542.17,19.73 L542.73,19.53 L543.30,18.86 L543.87,18.69 L544.43,18.59 L545.00,19.22 L545.70,19.30 L546.40,21.89 L546.90,22.00 L547.40,21.42 L547.90,20.42 L548.40,18.52 L548.90,19.67 L549.40,19.55 L549.90,20.20 L550.40,19.52 L550.90,20.60 L551.40,20.15 L551.90,19.66 L552.40,19.58 L553.10,19.25 L553.80,18.23 L554.45,18.77 L555.10,19.20 L555.64,20.26 L556.18,20.19 L556.72,19.25 L557.26,19.81 L557.80,20.23 L558.34,20.56 L558.88,20.42 L559.42,20.64 L559.96,19.69 L560.50,21.18 L561.01,21.18 L561.52,20.04 L562.04,20.29 L562.55,20.38 L563.06,21.06 L563.58,21.76 L564.09,21.36 L564.60,22.33 L565.30,17.54 L565.95,18.35 L566.60,20.02 L567.17,21.19 L567.73,22.17 L568.30,21.79 L568.87,23.08 L569.43,23.10 L570.00,22.90 L570.54,23.27 L571.08,22.16 L571.62,22.63 L572.16,21.57 L572.70,20.95 L573.24,21.45 L573.78,20.77 L574.32,22.78 L574.86,21.42 L575.40,21.52 L576.10,20.63 L576.80,20.34 L577.40,24.41 L577.97,25.10 L578.53,23.87 L579.10,22.88 L579.67,22.45 L580.23,23.61 L580.80,20.82 L581.34,22.41 L581.88,21.68 L582.42,20.20 L582.96,20.68 L583.50,20.78 L584.04,19.79 L584.58,21.05 L585.12,21.49 L585.66,20.93 L586.20,21.35 L586.74,20.76 L587.28,21.73 L587.82,21.02 L588.36,21.89 L588.90,19.06 L589.60,21.79 L590.30,24.88 L590.84,24.07 L591.38,25.65 L591.92,25.36 L592.46,26.68 L593.00,27.64 L593.65,26.35 L594.30,25.80 L594.84,25.36 L595.38,25.41 L595.92,25.97 L596.46,25.26 L597.00,26.33 L597.51,26.67 L598.02,24.96 L598.54,26.26 L599.05,25.72 L599.56,25.94 L600.08,24.99 L600.59,24.80 L601.10,25.54 L601.60,24.83 L602.10,23.62 L602.60,22.34 L603.10,21.50 L603.80,24.53 L604.50,27.14 L605.05,28.17 L605.60,24.61 L606.15,26.99 L606.70,26.69 L607.25,27.10 L607.80,26.89 L608.35,28.49 L608.90,26.54 L609.45,27.16 L610.00,27.69 L610.54,27.76 L611.08,26.66 L611.62,28.75 L612.16,27.80 L612.70,25.87 L613.24,27.08 L613.78,26.88 L614.32,27.38 L614.86,27.80 L615.40,29.03 L615.90,28.90 L616.40,28.98 L616.90,28.09 L617.40,27.70 L618.80,14.90 L619.23,15.18 L619.67,12.54 L620.10,11.15 L620.52,14.44 L620.94,13.48 L621.36,12.64 L621.78,14.05 L622.20,14.83 L622.60,14.20 L623.00,14.55 L623.40,12.75 L623.80,12.61 L624.20,12.52 L624.65,11.58 L625.10,9.80 L625.65,11.75 L626.20,10.00 L626.75,12.22 L627.30,8.46 L627.75,14.70 L628.20,16.35 L628.67,15.50 L629.13,14.20 L629.60,12.28 L630.03,13.40 L630.47,16.63 L630.90,17.60 L632.30,14.20 L632.80,14.55 L633.30,15.23 L633.80,15.88 L634.30,15.85 L634.84,15.46 L635.38,17.74 L635.92,17.04 L636.46,15.91 L637.00,15.71 L637.54,15.78 L638.08,14.25 L638.62,13.21 L639.16,13.54 L639.70,11.48 L640.23,13.07 L640.75,13.95 L641.27,15.55 L641.80,17.24 L642.35,18.77 L642.90,16.57 L643.45,17.72 L644.00,16.57 L644.55,15.79 L645.10,16.00 L645.61,16.17 L646.12,17.58 L646.64,16.49 L647.15,17.43 L647.66,17.73 L648.18,16.31 L648.69,15.53 L649.20,17.59 L649.70,17.53 L650.20,16.47 L650.70,16.28 L651.20,19.41 L651.70,17.44 L652.20,16.84 L652.70,16.83 L653.20,17.16 L653.74,17.66 L654.28,17.89 L654.82,17.02 L655.36,16.76 L655.90,16.58 L656.60,15.19 L657.30,13.99 L657.80,15.51 L658.30,15.88 L658.80,17.13 L659.30,18.98 L659.82,20.46 L660.35,17.85 L660.88,17.90 L661.40,18.58 L662.05,20.49 L662.70,20.13 L663.20,19.22 L663.70,18.68 L664.20,17.85 L664.70,15.49 L665.23,16.21 L665.75,13.67 L666.27,14.76 L666.80,14.15 L667.45,15.46 L668.10,17.63 L668.60,18.37 L669.10,19.04 L669.60,20.22 L670.10,20.23 L670.64,20.02 L671.18,20.97 L671.72,20.95 L672.26,20.79 L672.80,23.34 L673.37,21.27 L673.93,21.15 L674.50,20.44 L675.07,20.97 L675.63,19.98 L676.20,21.01 L676.70,20.97 L677.20,20.50 L677.70,20.34 L678.20,21.39 L678.73,21.08 L679.25,20.26 L679.77,19.61 L680.30,18.21 L680.84,19.46 L681.38,20.61 L681.92,20.86 L682.46,21.92 L683.00,21.17 L683.57,20.80 L684.13,19.84 L684.70,20.46 L685.27,19.45 L685.83,19.16 L686.40,17.80 L686.90,19.48 L687.40,18.64 L687.90,19.12 L688.40,19.55 L688.94,20.35 L689.48,19.78 L690.02,19.69 L690.56,20.70 L691.10,21.04 L691.75,18.73 L692.40,20.93 L692.94,21.15 L693.48,21.35 L694.02,21.28 L694.56,22.13 L695.10,22.16 L695.64,23.05 L696.18,21.90 L696.72,22.26 L697.26,22.43 L697.80,21.03 L698.34,22.34 L698.88,21.72 L699.42,21.24 L699.96,20.45 L700.50,21.26 L701.20,20.28 L701.90,19.07 L702.43,20.16 L702.97,22.90 L703.50,23.60 L705.20,27.80" fill="none" stroke="#1c1c7a" stroke-width="1.15" stroke-linejoin="round" stroke-linecap="round" opacity="1.0"/></g>
<g><line x1="57.30" y1="251.5" x2="57.30" y2="255.5" stroke="#222" stroke-width="1"/><line x1="70.85" y1="253.2" x2="70.85" y2="255.5" stroke="#666" stroke-width="1"/><line x1="70.85" y1="2.5" x2="70.85" y2="4.8" stroke="#666" stroke-width="1"/><line x1="84.40" y1="251.5" x2="84.40" y2="255.5" stroke="#222" stroke-width="1"/><line x1="97.95" y1="253.2" x2="97.95" y2="255.5" stroke="#666" stroke-width="1"/><line x1="97.95" y1="2.5" x2="97.95" y2="4.8" stroke="#666" stroke-width="1"/><line x1="111.50" y1="251.5" x2="111.50" y2="255.5" stroke="#222" stroke-width="1"/><line x1="125.05" y1="253.2" x2="125.05" y2="255.5" stroke="#666" stroke-width="1"/><line x1="125.05" y1="2.5" x2="125.05" y2="4.8" stroke="#666" stroke-width="1"/><line x1="138.60" y1="251.5" x2="138.60" y2="255.5" stroke="#222" stroke-width="1"/><line x1="152.16" y1="253.2" x2="152.16" y2="255.5" stroke="#666" stroke-width="1"/><line x1="152.16" y1="2.5" x2="152.16" y2="4.8" stroke="#666" stroke-width="1"/><line x1="165.71" y1="251.5" x2="165.71" y2="255.5" stroke="#222" stroke-width="1"/><line x1="179.26" y1="253.2" x2="179.26" y2="255.5" stroke="#666" stroke-width="1"/><line x1="179.26" y1="2.5" x2="179.26" y2="4.8" stroke="#666" stroke-width="1"/><line x1="192.81" y1="251.5" x2="192.81" y2="255.5" stroke="#222" stroke-width="1"/><line x1="206.36" y1="253.2" x2="206.36" y2="255.5" stroke="#666" stroke-width="1"/><line x1="206.36" y1="2.5" x2="206.36" y2="4.8" stroke="#666" stroke-width="1"/><line x1="219.91" y1="251.5" x2="219.91" y2="255.5" stroke="#222" stroke-width="1"/><line x1="233.46" y1="253.2" x2="233.46" y2="255.5" stroke="#666" stroke-width="1"/><line x1="233.46" y1="2.5" x2="233.46" y2="4.8" stroke="#666" stroke-width="1"/><line x1="247.01" y1="251.5" x2="247.01" y2="255.5" stroke="#222" stroke-width="1"/><line x1="260.56" y1="253.2" x2="260.56" y2="255.5" stroke="#666" stroke-width="1"/><line x1="260.56" y1="2.5" x2="260.56" y2="4.8" stroke="#666" stroke-width="1"/><line x1="274.11" y1="251.5" x2="274.11" y2="255.5" stroke="#222" stroke-width="1"/><line x1="287.66" y1="253.2" x2="287.66" y2="255.5" stroke="#666" stroke-width="1"/><line x1="287.66" y1="2.5" x2="287.66" y2="4.8" stroke="#666" stroke-width="1"/><line x1="301.22" y1="251.5" x2="301.22" y2="255.5" stroke="#222" stroke-width="1"/><line x1="314.77" y1="253.2" x2="314.77" y2="255.5" stroke="#666" stroke-width="1"/><line x1="314.77" y1="2.5" x2="314.77" y2="4.8" stroke="#666" stroke-width="1"/><line x1="328.32" y1="251.5" x2="328.32" y2="255.5" stroke="#222" stroke-width="1"/><line x1="341.87" y1="253.2" x2="341.87" y2="255.5" stroke="#666" stroke-width="1"/><line x1="341.87" y1="2.5" x2="341.87" y2="4.8" stroke="#666" stroke-width="1"/><line x1="355.42" y1="251.5" x2="355.42" y2="255.5" stroke="#222" stroke-width="1"/><line x1="368.97" y1="253.2" x2="368.97" y2="255.5" stroke="#666" stroke-width="1"/><line x1="368.97" y1="2.5" x2="368.97" y2="4.8" stroke="#666" stroke-width="1"/><line x1="382.52" y1="251.5" x2="382.52" y2="255.5" stroke="#222" stroke-width="1"/><line x1="409.30" y1="251.5" x2="409.30" y2="255.5" stroke="#222" stroke-width="1"/><line x1="422.85" y1="253.2" x2="422.85" y2="255.5" stroke="#666" stroke-width="1"/><line x1="422.85" y1="2.5" x2="422.85" y2="4.8" stroke="#666" stroke-width="1"/><line x1="436.40" y1="251.5" x2="436.40" y2="255.5" stroke="#222" stroke-width="1"/><line x1="449.95" y1="253.2" x2="449.95" y2="255.5" stroke="#666" stroke-width="1"/><line x1="449.95" y1="2.5" x2="449.95" y2="4.8" stroke="#666" stroke-width="1"/><line x1="463.50" y1="251.5" x2="463.50" y2="255.5" stroke="#222" stroke-width="1"/><line x1="477.05" y1="253.2" x2="477.05" y2="255.5" stroke="#666" stroke-width="1"/><line x1="477.05" y1="2.5" x2="477.05" y2="4.8" stroke="#666" stroke-width="1"/><line x1="490.60" y1="251.5" x2="490.60" y2="255.5" stroke="#222" stroke-width="1"/><line x1="504.15" y1="253.2" x2="504.15" y2="255.5" stroke="#666" stroke-width="1"/><line x1="504.15" y1="2.5" x2="504.15" y2="4.8" stroke="#666" stroke-width="1"/><line x1="517.71" y1="251.5" x2="517.71" y2="255.5" stroke="#222" stroke-width="1"/><line x1="531.26" y1="253.2" x2="531.26" y2="255.5" stroke="#666" stroke-width="1"/><line x1="531.26" y1="2.5" x2="531.26" y2="4.8" stroke="#666" stroke-width="1"/><line x1="544.81" y1="251.5" x2="544.81" y2="255.5" stroke="#222" stroke-width="1"/><line x1="558.36" y1="253.2" x2="558.36" y2="255.5" stroke="#666" stroke-width="1"/><line x1="558.36" y1="2.5" x2="558.36" y2="4.8" stroke="#666" stroke-width="1"/><line x1="571.91" y1="251.5" x2="571.91" y2="255.5" stroke="#222" stroke-width="1"/><line x1="585.46" y1="253.2" x2="585.46" y2="255.5" stroke="#666" stroke-width="1"/><line x1="585.46" y1="2.5" x2="585.46" y2="4.8" stroke="#666" stroke-width="1"/><line x1="599.01" y1="251.5" x2="599.01" y2="255.5" stroke="#222" stroke-width="1"/><line x1="612.56" y1="253.2" x2="612.56" y2="255.5" stroke="#666" stroke-width="1"/><line x1="612.56" y1="2.5" x2="612.56" y2="4.8" stroke="#666" stroke-width="1"/><line x1="626.11" y1="251.5" x2="626.11" y2="255.5" stroke="#222" stroke-width="1"/><line x1="639.66" y1="253.2" x2="639.66" y2="255.5" stroke="#666" stroke-width="1"/><line x1="639.66" y1="2.5" x2="639.66" y2="4.8" stroke="#666" stroke-width="1"/><line x1="653.22" y1="251.5" x2="653.22" y2="255.5" stroke="#222" stroke-width="1"/><line x1="666.77" y1="253.2" x2="666.77" y2="255.5" stroke="#666" stroke-width="1"/><line x1="666.77" y1="2.5" x2="666.77" y2="4.8" stroke="#666" stroke-width="1"/><line x1="680.32" y1="251.5" x2="680.32" y2="255.5" stroke="#222" stroke-width="1"/><line x1="693.87" y1="253.2" x2="693.87" y2="255.5" stroke="#666" stroke-width="1"/><line x1="693.87" y1="2.5" x2="693.87" y2="4.8" stroke="#666" stroke-width="1"/><line x1="707.42" y1="251.5" x2="707.42" y2="255.5" stroke="#222" stroke-width="1"/><line x1="720.97" y1="253.2" x2="720.97" y2="255.5" stroke="#666" stroke-width="1"/><line x1="720.97" y1="2.5" x2="720.97" y2="4.8" stroke="#666" stroke-width="1"/><line x1="734.52" y1="251.5" x2="734.52" y2="255.5" stroke="#222" stroke-width="1"/><line x1="43.75" y1="255.30" x2="47.75" y2="255.30" stroke="#8888b8" stroke-width="1"/><line x1="744.0" y1="255.30" x2="748.0" y2="255.30" stroke="#b08888" stroke-width="1"/><line x1="43.75" y1="242.66" x2="46.05" y2="242.66" stroke="#9a9ab8" stroke-width="1"/><line x1="745.7" y1="242.66" x2="748.0" y2="242.66" stroke="#b89a9a" stroke-width="1"/><line x1="43.75" y1="230.01" x2="46.05" y2="230.01" stroke="#9a9ab8" stroke-width="1"/><line x1="745.7" y1="230.01" x2="748.0" y2="230.01" stroke="#b89a9a" stroke-width="1"/><line x1="43.75" y1="217.37" x2="47.75" y2="217.37" stroke="#8888b8" stroke-width="1"/><line x1="744.0" y1="217.37" x2="748.0" y2="217.37" stroke="#b08888" stroke-width="1"/><line x1="43.75" y1="204.72" x2="46.05" y2="204.72" stroke="#9a9ab8" stroke-width="1"/><line x1="745.7" y1="204.72" x2="748.0" y2="204.72" stroke="#b89a9a" stroke-width="1"/><line x1="43.75" y1="192.08" x2="46.05" y2="192.08" stroke="#9a9ab8" stroke-width="1"/><line x1="745.7" y1="192.08" x2="748.0" y2="192.08" stroke="#b89a9a" stroke-width="1"/><line x1="43.75" y1="179.43" x2="47.75" y2="179.43" stroke="#8888b8" stroke-width="1"/><line x1="744.0" y1="179.43" x2="748.0" y2="179.43" stroke="#b08888" stroke-width="1"/><line x1="43.75" y1="166.79" x2="46.05" y2="166.79" stroke="#9a9ab8" stroke-width="1"/><line x1="745.7" y1="166.79" x2="748.0" y2="166.79" stroke="#b89a9a" stroke-width="1"/><line x1="43.75" y1="154.14" x2="46.05" y2="154.14" stroke="#9a9ab8" stroke-width="1"/><line x1="745.7" y1="154.14" x2="748.0" y2="154.14" stroke="#b89a9a" stroke-width="1"/><line x1="43.75" y1="141.50" x2="47.75" y2="141.50" stroke="#8888b8" stroke-width="1"/><line x1="744.0" y1="141.50" x2="748.0" y2="141.50" stroke="#b08888" stroke-width="1"/><line x1="43.75" y1="128.85" x2="46.05" y2="128.85" stroke="#9a9ab8" stroke-width="1"/><line x1="745.7" y1="128.85" x2="748.0" y2="128.85" stroke="#b89a9a" stroke-width="1"/><line x1="43.75" y1="116.21" x2="46.05" y2="116.21" stroke="#9a9ab8" stroke-width="1"/><line x1="745.7" y1="116.21" x2="748.0" y2="116.21" stroke="#b89a9a" stroke-width="1"/><line x1="43.75" y1="103.56" x2="47.75" y2="103.56" stroke="#8888b8" stroke-width="1"/><line x1="744.0" y1="103.56" x2="748.0" y2="103.56" stroke="#b08888" stroke-width="1"/><line x1="43.75" y1="90.91" x2="46.05" y2="90.91" stroke="#9a9ab8" stroke-width="1"/><line x1="745.7" y1="90.91" x2="748.0" y2="90.91" stroke="#b89a9a" stroke-width="1"/><line x1="43.75" y1="78.27" x2="46.05" y2="78.27" stroke="#9a9ab8" stroke-width="1"/><line x1="745.7" y1="78.27" x2="748.0" y2="78.27" stroke="#b89a9a" stroke-width="1"/><line x1="43.75" y1="65.62" x2="47.75" y2="65.62" stroke="#8888b8" stroke-width="1"/><line x1="744.0" y1="65.62" x2="748.0" y2="65.62" stroke="#b08888" stroke-width="1"/><line x1="43.75" y1="52.98" x2="46.05" y2="52.98" stroke="#9a9ab8" stroke-width="1"/><line x1="745.7" y1="52.98" x2="748.0" y2="52.98" stroke="#b89a9a" stroke-width="1"/><line x1="43.75" y1="40.34" x2="46.05" y2="40.34" stroke="#9a9ab8" stroke-width="1"/><line x1="745.7" y1="40.34" x2="748.0" y2="40.34" stroke="#b89a9a" stroke-width="1"/><line x1="43.75" y1="27.69" x2="47.75" y2="27.69" stroke="#8888b8" stroke-width="1"/><line x1="744.0" y1="27.69" x2="748.0" y2="27.69" stroke="#b08888" stroke-width="1"/><line x1="43.75" y1="15.04" x2="46.05" y2="15.04" stroke="#9a9ab8" stroke-width="1"/><line x1="745.7" y1="15.04" x2="748.0" y2="15.04" stroke="#b89a9a" stroke-width="1"/><line x1="43.75" y1="2.40" x2="46.05" y2="2.40" stroke="#9a9ab8" stroke-width="1"/><line x1="745.7" y1="2.40" x2="748.0" y2="2.40" stroke="#b89a9a" stroke-width="1"/></g>
<g><line x1="43.0" y1="2.5" x2="748.0" y2="2.5" stroke="#222" stroke-width="1"/><line x1="43.0" y1="255.5" x2="748.0" y2="255.5" stroke="#222" stroke-width="1"/><line x1="43.75" y1="2.0" x2="43.75" y2="256.0" stroke="#a0a0c8" stroke-width="1.35"/><line x1="747.6" y1="2.0" x2="747.6" y2="256.0" stroke="#a06868" stroke-width="1.1"/><line x1="396.0" y1="2.5" x2="396.0" y2="255.5" stroke="#999" stroke-width="1.6"/></g>
<g font-family="Liberation Sans, sans-serif" font-size="9.8" fill="#2a2a2a" stroke="#2a2a2a" stroke-width="0.2"><text transform="translate(57.30,269.6) scale(0.96,1.06)" text-anchor="middle">-60</text><text transform="translate(84.40,269.6) scale(0.96,1.06)" text-anchor="middle">0</text><text transform="translate(111.50,269.6) scale(0.96,1.06)" text-anchor="middle">60</text><text transform="translate(138.60,269.6) scale(0.96,1.06)" text-anchor="middle">120</text><text transform="translate(165.71,269.6) scale(0.96,1.06)" text-anchor="middle">180</text><text transform="translate(192.81,269.6) scale(0.96,1.06)" text-anchor="middle">240</text><text transform="translate(219.91,269.6) scale(0.96,1.06)" text-anchor="middle">300</text><text transform="translate(247.01,269.6) scale(0.96,1.06)" text-anchor="middle">360</text><text transform="translate(274.11,269.6) scale(0.96,1.06)" text-anchor="middle">420</text><text transform="translate(301.22,269.6) scale(0.96,1.06)" text-anchor="middle">480</text><text transform="translate(328.32,269.6) scale(0.96,1.06)" text-anchor="middle">540</text><text transform="translate(355.42,269.6) scale(0.96,1.06)" text-anchor="middle">600</text><text transform="translate(382.52,269.6) scale(0.96,1.06)" text-anchor="middle">660</text><text transform="translate(409.30,269.6) scale(0.96,1.06)" text-anchor="middle">-60</text><text transform="translate(436.40,269.6) scale(0.96,1.06)" text-anchor="middle">0</text><text transform="translate(463.50,269.6) scale(0.96,1.06)" text-anchor="middle">60</text><text transform="translate(490.60,269.6) scale(0.96,1.06)" text-anchor="middle">120</text><text transform="translate(517.71,269.6) scale(0.96,1.06)" text-anchor="middle">180</text><text transform="translate(544.81,269.6) scale(0.96,1.06)" text-anchor="middle">240</text><text transform="translate(571.91,269.6) scale(0.96,1.06)" text-anchor="middle">300</text><text transform="translate(599.01,269.6) scale(0.96,1.06)" text-anchor="middle">360</text><text transform="translate(626.11,269.6) scale(0.96,1.06)" text-anchor="middle">420</text><text transform="translate(653.22,269.6) scale(0.96,1.06)" text-anchor="middle">480</text><text transform="translate(680.32,269.6) scale(0.96,1.06)" text-anchor="middle">540</text><text transform="translate(707.42,269.6) scale(0.96,1.06)" text-anchor="middle">600</text><text transform="translate(734.52,269.6) scale(0.96,1.06)" text-anchor="middle">660</text></g>
<g font-family="Liberation Sans, sans-serif" font-size="9.8" stroke-width="0.2"><text transform="translate(38.6,259.05) scale(0.96,1.02)" text-anchor="end" fill="#2a2a78" stroke="#2a2a78">0</text><text transform="translate(752.6,259.05) scale(0.96,1.02)" text-anchor="start" fill="#6e2020" stroke="#6e2020">0</text><text transform="translate(38.6,221.12) scale(0.96,1.02)" text-anchor="end" fill="#2a2a78" stroke="#2a2a78">150</text><text transform="translate(752.6,221.12) scale(0.96,1.02)" text-anchor="start" fill="#6e2020" stroke="#6e2020">15</text><text transform="translate(38.6,183.18) scale(0.96,1.02)" text-anchor="end" fill="#2a2a78" stroke="#2a2a78">300</text><text transform="translate(752.6,183.18) scale(0.96,1.02)" text-anchor="start" fill="#6e2020" stroke="#6e2020">30</text><text transform="translate(38.6,145.25) scale(0.96,1.02)" text-anchor="end" fill="#2a2a78" stroke="#2a2a78">450</text><text transform="translate(752.6,145.25) scale(0.96,1.02)" text-anchor="start" fill="#6e2020" stroke="#6e2020">45</text><text transform="translate(38.6,107.31) scale(0.96,1.02)" text-anchor="end" fill="#2a2a78" stroke="#2a2a78">600</text><text transform="translate(752.6,107.31) scale(0.96,1.02)" text-anchor="start" fill="#6e2020" stroke="#6e2020">60</text><text transform="translate(38.6,69.38) scale(0.96,1.02)" text-anchor="end" fill="#2a2a78" stroke="#2a2a78">750</text><text transform="translate(752.6,69.38) scale(0.96,1.02)" text-anchor="start" fill="#6e2020" stroke="#6e2020">75</text><text transform="translate(38.6,31.44) scale(0.96,1.02)" text-anchor="end" fill="#2a2a78" stroke="#2a2a78">900</text><text transform="translate(752.6,31.44) scale(0.96,1.02)" text-anchor="start" fill="#6e2020" stroke="#6e2020">90</text></g>
<text x="51.2" y="18.7" font-family="Liberation Sans, sans-serif" font-size="14" font-weight="bold" fill="#000" stroke="#000" stroke-width="0.35">A</text>
<text x="402.3" y="18.7" font-family="Liberation Sans, sans-serif" font-size="14" font-weight="bold" fill="#000" stroke="#000" stroke-width="0.35">B</text>
<text transform="translate(219.8,291.4)" text-anchor="middle" font-family="Liberation Sans, sans-serif" font-size="11.9" fill="#1a1a1a" stroke="#1a1a1a" stroke-width="0.2">t [s]</text>
<text transform="translate(572,291.4)" text-anchor="middle" font-family="Liberation Sans, sans-serif" font-size="11.9" fill="#1a1a1a" stroke="#1a1a1a" stroke-width="0.2">t [s]</text>
<text transform="translate(10.6,128.7) rotate(-90)" text-anchor="middle" font-family="Liberation Sans, sans-serif" font-size="11.7" font-weight="bold" fill="#1f1f80" stroke="#1f1f80" stroke-width="0.25">p [MPa]</text>
<text transform="translate(782,129.1) rotate(-90)" text-anchor="middle" font-family="Liberation Sans, sans-serif" font-size="10.1" font-weight="bold" fill="#7a1a1a" stroke="#7a1a1a" stroke-width="0.25">T [°C]</text>
</svg>
</body></html>
